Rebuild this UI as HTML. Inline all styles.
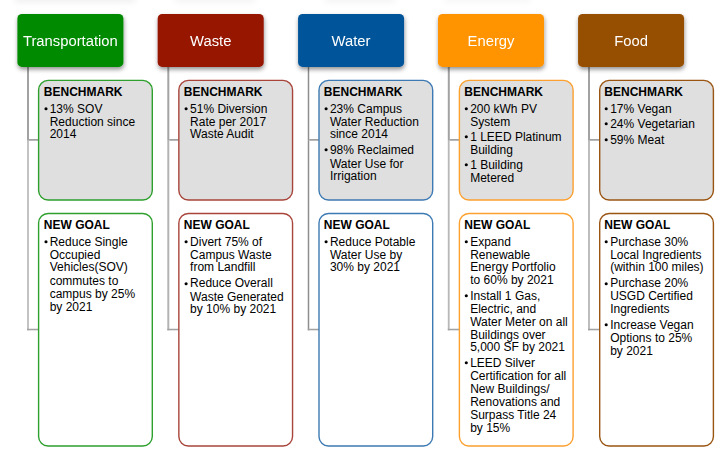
<!DOCTYPE html>
<html><head><meta charset="utf-8"><style>
html,body{margin:0;padding:0;}
body{width:725px;height:461px;background:#fff;position:relative;overflow:hidden;font-family:"Liberation Sans",sans-serif;color:#000;}
.a{position:absolute;}
.t{position:absolute;white-space:pre;line-height:20px;}
</style></head><body>
<svg class="a" style="left:0;top:0" width="725" height="461" viewBox="0 0 725 461">
<rect x="15" y="-4" width="120" height="6" fill="#000" fill-opacity="0.07" filter="url(#bl)"/>
<rect x="175" y="-4" width="80" height="6" fill="#000" fill-opacity="0.05" filter="url(#bl)"/>
<rect x="325" y="-4" width="70" height="6" fill="#000" fill-opacity="0.05" filter="url(#bl)"/>
<rect x="445" y="-4" width="85" height="6" fill="#000" fill-opacity="0.04" filter="url(#bl)"/>
<defs><filter id="bl" x="-50%" y="-300%" width="200%" height="700%"><feGaussianBlur stdDeviation="3"/></filter><filter id="sh" x="-20%" y="-30%" width="140%" height="170%"><feDropShadow dx="0.5" dy="2.5" stdDeviation="2" flood-color="#000" flood-opacity="0.42"/></filter></defs>
<rect x="27" y="67" width="2" height="73.8" fill="#a2a2a2"/>
<rect x="27" y="140.8" width="2" height="189.5" fill="#c3c3c3"/>
<rect x="29" y="139" width="9.6" height="1.75" fill="#a2a2a2"/>
<rect x="27" y="328.75" width="11.6" height="1.55" fill="#a2a2a2"/>
<rect x="17.4" y="14" width="106" height="52.9" rx="4.5" fill="#008a00" filter="url(#sh)"/>
<rect x="38.6" y="80.4" width="113.7" height="119.6" rx="9.5" fill="#dfdfdf" stroke="#2ea02e" stroke-width="1.4"/>
<circle cx="46" cy="108.7" r="1.55" fill="#000"/>
<rect x="38.6" y="213.45" width="113.7" height="232.55" rx="9.5" fill="#ffffff" stroke="#2ea02e" stroke-width="1.4"/>
<circle cx="46" cy="241.7" r="1.55" fill="#000"/>
<rect x="167.3" y="67" width="2" height="73.8" fill="#a4a4a4"/>
<rect x="167.3" y="140.8" width="2" height="189.5" fill="#b4b4b4"/>
<rect x="169.3" y="139" width="9.55" height="1.75" fill="#a2a2a2"/>
<rect x="167.3" y="328.75" width="11.55" height="1.55" fill="#a2a2a2"/>
<rect x="157.7" y="14" width="106" height="52.9" rx="4.5" fill="#961300" filter="url(#sh)"/>
<rect x="178.85" y="80.4" width="113.7" height="119.6" rx="9.5" fill="#dfdfdf" stroke="#a8443a" stroke-width="1.4"/>
<circle cx="186.1" cy="108.7" r="1.55" fill="#000"/>
<rect x="178.85" y="213.45" width="113.7" height="232.55" rx="9.5" fill="#ffffff" stroke="#a8443a" stroke-width="1.4"/>
<circle cx="186.1" cy="241.7" r="1.55" fill="#000"/>
<circle cx="186.1" cy="283.7" r="1.55" fill="#000"/>
<rect x="307.75" y="67" width="1.5" height="73.8" fill="#8e8e8e"/>
<rect x="307.75" y="140.8" width="1.5" height="189.5" fill="#8e8e8e"/>
<rect x="309.25" y="139" width="9.75" height="1.75" fill="#a2a2a2"/>
<rect x="307.75" y="328.75" width="11.25" height="1.55" fill="#a2a2a2"/>
<rect x="298.07" y="14" width="106" height="52.9" rx="4.5" fill="#02549a" filter="url(#sh)"/>
<rect x="319" y="80.4" width="113.7" height="119.6" rx="9.5" fill="#dfdfdf" stroke="#3d7ab3" stroke-width="1.4"/>
<circle cx="326.1" cy="108.7" r="1.55" fill="#000"/>
<circle cx="326.1" cy="149.7" r="1.55" fill="#000"/>
<rect x="319" y="213.45" width="113.7" height="232.55" rx="9.5" fill="#ffffff" stroke="#3d7ab3" stroke-width="1.4"/>
<circle cx="326.1" cy="241.7" r="1.55" fill="#000"/>
<rect x="447.8" y="67" width="2" height="73.8" fill="#a2a2a2"/>
<rect x="447.8" y="140.8" width="1.8" height="189.5" fill="#b8b8b8"/>
<rect x="449.8" y="139" width="9.6" height="1.75" fill="#a2a2a2"/>
<rect x="447.8" y="328.75" width="11.6" height="1.55" fill="#a2a2a2"/>
<rect x="438.03" y="14" width="106" height="52.9" rx="4.5" fill="#ff9300" filter="url(#sh)"/>
<rect x="459.4" y="80.4" width="113.7" height="119.6" rx="9.5" fill="#dfdfdf" stroke="#fca030" stroke-width="1.4"/>
<circle cx="466.3" cy="108.7" r="1.55" fill="#000"/>
<circle cx="466.3" cy="136.7" r="1.55" fill="#000"/>
<circle cx="466.3" cy="164.7" r="1.55" fill="#000"/>
<rect x="459.4" y="213.45" width="113.7" height="232.55" rx="9.5" fill="#ffffff" stroke="#fca030" stroke-width="1.4"/>
<circle cx="466.3" cy="241.7" r="1.55" fill="#000"/>
<circle cx="466.3" cy="295.7" r="1.55" fill="#000"/>
<circle cx="466.3" cy="362.7" r="1.55" fill="#000"/>
<rect x="588" y="67" width="2" height="73.8" fill="#a2a2a2"/>
<rect x="588" y="140.8" width="2" height="189.5" fill="#bdbdbd"/>
<rect x="590" y="139" width="9.7" height="1.75" fill="#a2a2a2"/>
<rect x="588" y="328.75" width="11.7" height="1.55" fill="#a2a2a2"/>
<rect x="578.07" y="14" width="106" height="52.9" rx="4.5" fill="#964f00" filter="url(#sh)"/>
<rect x="599.7" y="80.4" width="113.7" height="119.6" rx="9.5" fill="#dfdfdf" stroke="#9a5512" stroke-width="1.4"/>
<circle cx="606.2" cy="108.7" r="1.55" fill="#000"/>
<circle cx="606.2" cy="123.7" r="1.55" fill="#000"/>
<circle cx="606.2" cy="139.7" r="1.55" fill="#000"/>
<rect x="599.7" y="213.45" width="113.7" height="232.55" rx="9.5" fill="#ffffff" stroke="#9a5512" stroke-width="1.4"/>
<circle cx="606.2" cy="241.7" r="1.55" fill="#000"/>
<circle cx="606.2" cy="283.7" r="1.55" fill="#000"/>
<circle cx="606.2" cy="324.7" r="1.55" fill="#000"/>
</svg>
<div class="t" style="left:17.4px;width:106px;text-align:center;top:30.57px;font-size:14.8px;color:#fff;transform:scaleY(1.05);transform-origin:50% 15px">Transportation</div>
<div class="t" style="left:43.85px;top:81.84px;font-size:12px;font-weight:bold">BENCHMARK</div>
<div class="t" style="left:49.7px;top:98.74px;font-size:12px">13% SOV</div>
<div class="t" style="left:49.7px;top:111.54px;font-size:12px">Reduction since</div>
<div class="t" style="left:49.7px;top:124.34px;font-size:12px">2014</div>
<div class="t" style="left:43.85px;top:214.89px;font-size:12px;font-weight:bold">NEW GOAL</div>
<div class="t" style="left:49.7px;top:231.79px;font-size:12px">Reduce Single</div>
<div class="t" style="left:49.7px;top:244.59px;font-size:12px">Occupied</div>
<div class="t" style="left:49.7px;top:257.39px;font-size:12px">Vehicles(SOV)</div>
<div class="t" style="left:49.7px;top:270.99px;font-size:12px">commutes to</div>
<div class="t" style="left:49.7px;top:283.79px;font-size:12px">campus by 25%</div>
<div class="t" style="left:49.7px;top:296.59px;font-size:12px">by 2021</div>
<div class="t" style="left:157.7px;width:106px;text-align:center;top:30.57px;font-size:14.8px;color:#fff;transform:scaleY(1.05);transform-origin:50% 15px">Waste</div>
<div class="t" style="left:183.85px;top:81.84px;font-size:12px;font-weight:bold">BENCHMARK</div>
<div class="t" style="left:190.1px;top:98.74px;font-size:12px">51% Diversion</div>
<div class="t" style="left:190.1px;top:111.54px;font-size:12px">Rate per 2017</div>
<div class="t" style="left:190.1px;top:124.34px;font-size:12px">Waste Audit</div>
<div class="t" style="left:183.85px;top:214.89px;font-size:12px;font-weight:bold">NEW GOAL</div>
<div class="t" style="left:190.1px;top:231.79px;font-size:12px">Divert 75% of</div>
<div class="t" style="left:190.1px;top:244.59px;font-size:12px">Campus Waste</div>
<div class="t" style="left:190.1px;top:257.39px;font-size:12px">from Landfill</div>
<div class="t" style="left:190.1px;top:273.49px;font-size:12px">Reduce Overall</div>
<div class="t" style="left:190.1px;top:287.49px;font-size:12px">Waste Generated</div>
<div class="t" style="left:190.1px;top:299.09px;font-size:12px">by 10% by 2021</div>
<div class="t" style="left:298.07px;width:106px;text-align:center;top:30.57px;font-size:14.8px;color:#fff;transform:scaleY(1.05);transform-origin:50% 15px">Water</div>
<div class="t" style="left:323.85px;top:81.84px;font-size:12px;font-weight:bold">BENCHMARK</div>
<div class="t" style="left:329.95px;top:98.74px;font-size:12px">23% Campus</div>
<div class="t" style="left:329.95px;top:111.54px;font-size:12px">Water Reduction</div>
<div class="t" style="left:329.95px;top:124.34px;font-size:12px">since 2014</div>
<div class="t" style="left:329.95px;top:140.14px;font-size:12px">98% Reclaimed</div>
<div class="t" style="left:329.95px;top:153.74px;font-size:12px">Water Use for</div>
<div class="t" style="left:329.95px;top:166.24px;font-size:12px">Irrigation</div>
<div class="t" style="left:323.85px;top:214.89px;font-size:12px;font-weight:bold">NEW GOAL</div>
<div class="t" style="left:329.95px;top:231.79px;font-size:12px">Reduce Potable</div>
<div class="t" style="left:329.95px;top:244.59px;font-size:12px">Water Use by</div>
<div class="t" style="left:329.95px;top:257.39px;font-size:12px">30% by 2021</div>
<div class="t" style="left:438.03px;width:106px;text-align:center;top:30.57px;font-size:14.8px;color:#fff;transform:scaleY(1.05);transform-origin:50% 15px">Energy</div>
<div class="t" style="left:464.3px;top:81.84px;font-size:12px;font-weight:bold">BENCHMARK</div>
<div class="t" style="left:470.2px;top:98.74px;font-size:12px">200 kWh PV</div>
<div class="t" style="left:470.2px;top:111.54px;font-size:12px">System</div>
<div class="t" style="left:470.2px;top:126.94px;font-size:12px">1 LEED Platinum</div>
<div class="t" style="left:470.2px;top:139.74px;font-size:12px">Building</div>
<div class="t" style="left:470.2px;top:155.14px;font-size:12px">1 Building</div>
<div class="t" style="left:470.2px;top:167.94px;font-size:12px">Metered</div>
<div class="t" style="left:464.3px;top:214.89px;font-size:12px;font-weight:bold">NEW GOAL</div>
<div class="t" style="left:470.2px;top:231.79px;font-size:12px">Expand</div>
<div class="t" style="left:470.2px;top:244.59px;font-size:12px">Renewable</div>
<div class="t" style="left:470.2px;top:257.39px;font-size:12px">Energy Portfolio</div>
<div class="t" style="left:470.2px;top:270.19px;font-size:12px">to 60% by 2021</div>
<div class="t" style="left:470.2px;top:286.29px;font-size:12px">Install 1 Gas,</div>
<div class="t" style="left:470.2px;top:299.09px;font-size:12px">Electric, and</div>
<div class="t" style="left:470.2px;top:311.89px;font-size:12px">Water Meter on all</div>
<div class="t" style="left:470.2px;top:324.69px;font-size:12px">Buildings over</div>
<div class="t" style="left:470.2px;top:337.49px;font-size:12px">5,000 SF by 2021</div>
<div class="t" style="left:470.2px;top:352.69px;font-size:12px">LEED Silver</div>
<div class="t" style="left:470.2px;top:365.59px;font-size:12px">Certification for all</div>
<div class="t" style="left:470.2px;top:379.19px;font-size:12px">New Buildings/</div>
<div class="t" style="left:470.2px;top:391.99px;font-size:12px">Renovations and</div>
<div class="t" style="left:470.2px;top:404.79px;font-size:12px">Surpass Title 24</div>
<div class="t" style="left:470.2px;top:417.59px;font-size:12px">by 15%</div>
<div class="t" style="left:578.07px;width:106px;text-align:center;top:30.57px;font-size:14.8px;color:#fff;transform:scaleY(1.05);transform-origin:50% 15px">Food</div>
<div class="t" style="left:604.3px;top:81.84px;font-size:12px;font-weight:bold">BENCHMARK</div>
<div class="t" style="left:610.2px;top:98.74px;font-size:12px">17% Vegan</div>
<div class="t" style="left:610.2px;top:114.14px;font-size:12px">24% Vegetarian</div>
<div class="t" style="left:610.2px;top:129.54px;font-size:12px">59% Meat</div>
<div class="t" style="left:604.3px;top:214.89px;font-size:12px;font-weight:bold">NEW GOAL</div>
<div class="t" style="left:610.2px;top:231.79px;font-size:12px">Purchase 30%</div>
<div class="t" style="left:610.2px;top:244.59px;font-size:12px">Local Ingredients</div>
<div class="t" style="left:610.2px;top:257.39px;font-size:12px">(within 100 miles)</div>
<div class="t" style="left:610.2px;top:273.49px;font-size:12px">Purchase 20%</div>
<div class="t" style="left:610.2px;top:286.29px;font-size:12px">USGD Certified</div>
<div class="t" style="left:610.2px;top:299.09px;font-size:12px">Ingredients</div>
<div class="t" style="left:610.2px;top:315.19px;font-size:12px">Increase Vegan</div>
<div class="t" style="left:610.2px;top:327.99px;font-size:12px">Options to 25%</div>
<div class="t" style="left:610.2px;top:340.79px;font-size:12px">by 2021</div>
</body></html>
